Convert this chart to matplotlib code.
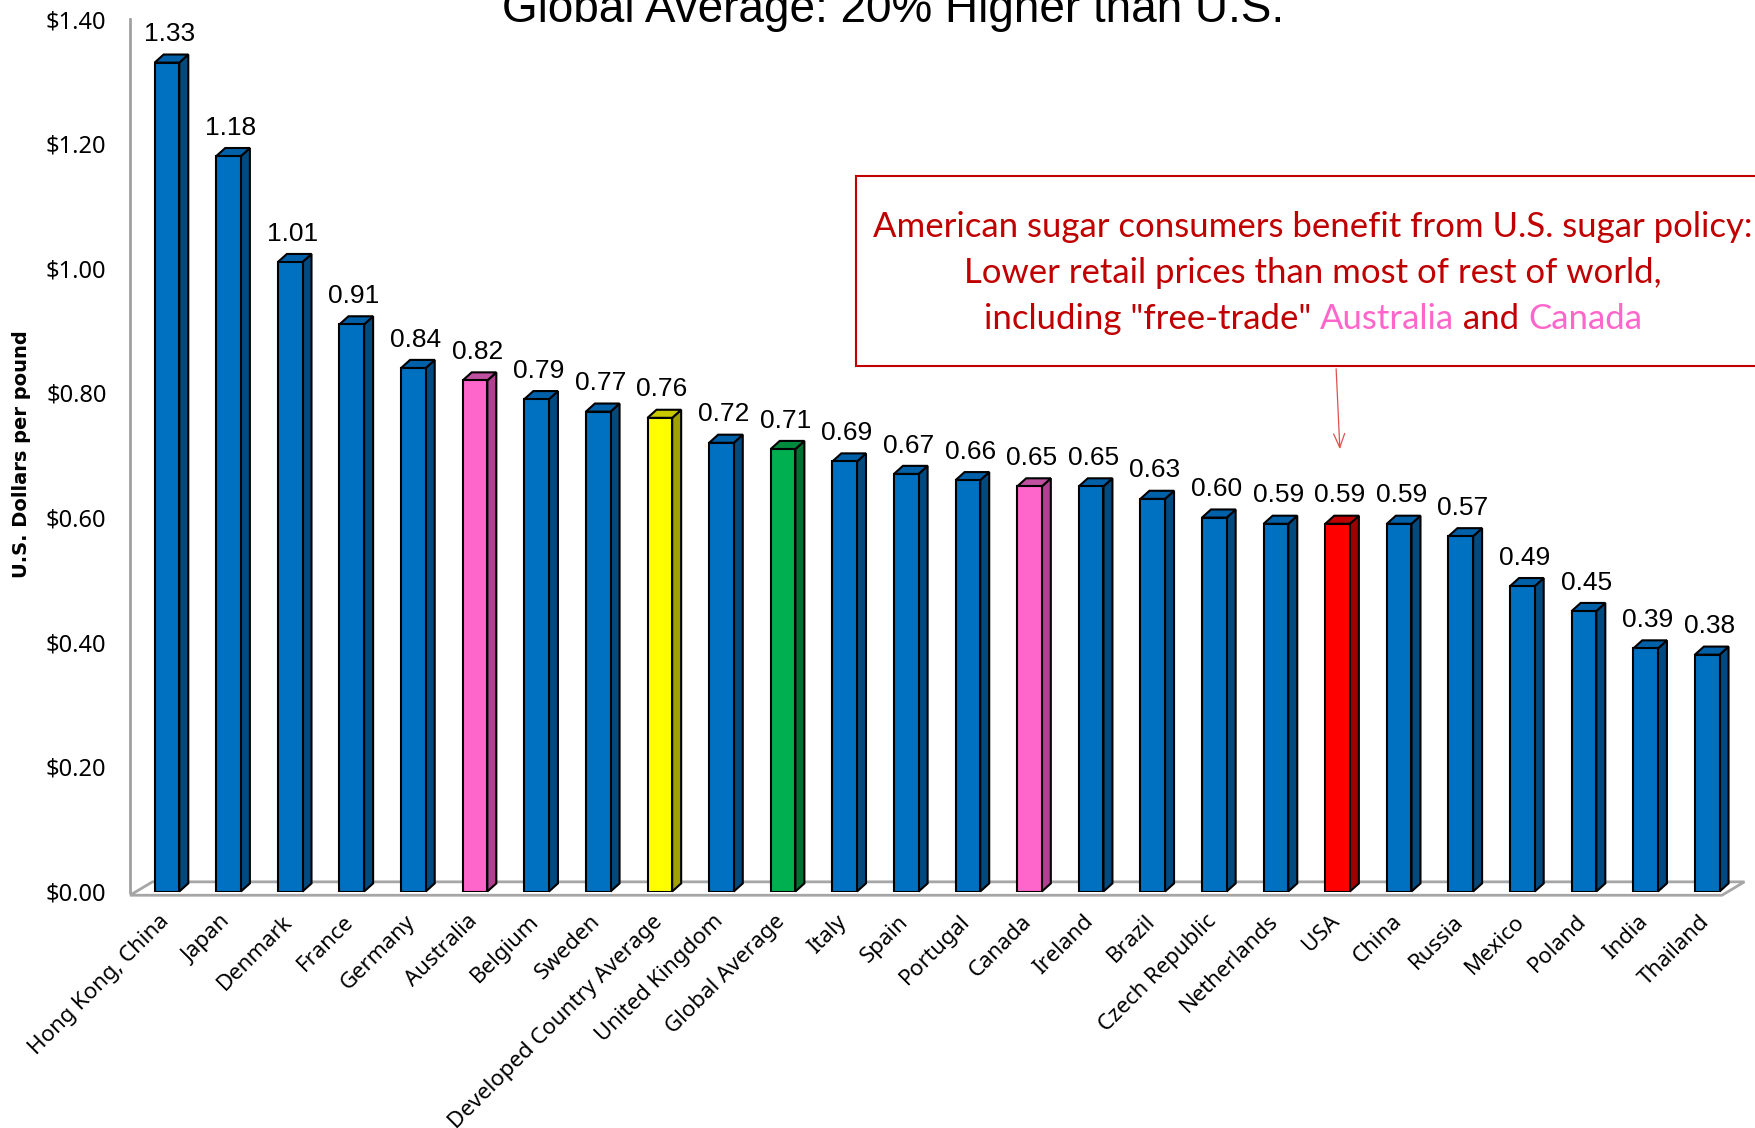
import matplotlib
matplotlib.use("Agg")
import matplotlib.pyplot as plt
from matplotlib.patches import Polygon, Rectangle
from matplotlib.transforms import ScaledTranslation

countries = ["Hong Kong, China", "Japan", "Denmark", "France", "Germany", "Australia",
             "Belgium", "Sweden", "Developed Country Average", "United Kingdom",
             "Global Average", "Italy", "Spain", "Portugal", "Canada", "Ireland", "Brazil",
             "Czech Republic", "Netherlands", "USA", "China", "Russia", "Mexico", "Poland",
             "India", "Thailand"]
prices = [1.33, 1.18, 1.01, 0.91, 0.84, 0.82, 0.79, 0.77, 0.76, 0.72, 0.71, 0.69, 0.67,
          0.66, 0.65, 0.65, 0.63, 0.60, 0.59, 0.59, 0.59, 0.57, 0.49, 0.45, 0.39, 0.38]
yticks = [0.0, 0.2, 0.4, 0.6, 0.8, 1.0, 1.2, 1.4]

# front / side / top colours per highlighted bar
special = {
    "Australia": ("#FF66CC", "#B04090", "#C050A0"),
    "Canada": ("#FF66CC", "#B04090", "#C050A0"),
    "Developed Country Average": ("#FFFF00", "#A0A000", "#C8C800"),
    "Global Average": ("#00B050", "#007030", "#008A3E"),
    "USA": ("#FF0000", "#A00000", "#C00000"),
}
blue = ("#0070C0", "#004A80", "#0060A8")

arial = ["Liberation Sans", "DejaVu Sans"]
tahoma = ["Noto Sans", "DejaVu Sans"]
calibri = ["Lato", "DejaVu Sans"]

W, H = 1756, 1128
fig = plt.figure(figsize=(W / 100, H / 100), dpi=100)
ax = fig.add_axes([130 / W, 1 - 891.5 / H, (1722 - 130) / W, (891.5 - 19) / H])
ax.set_xlim(-0.6, 25.24)
ax.set_ylim(0, 1.4)

bw = 0.4
dx, dy = 0.146, 0.013

# floor
fdx, fdy = 0.364, 0.0215
fy = -0.006
floor = Polygon([(-0.6, fy), (25.24, fy), (25.24 + fdx, fy + fdy), (-0.6 + fdx, fy + fdy)],
                closed=True, facecolor="white", edgecolor="#A6A6A6", lw=2, clip_on=False, zorder=1)
ax.add_patch(floor)

fronts = [special.get(c, blue)[0] for c in countries]
bars = ax.bar(range(len(countries)), prices, width=bw, color=fronts, edgecolor="black",
              linewidth=1.5, zorder=3)
for i, (c, v) in enumerate(zip(countries, prices)):
    f, s, t = special.get(c, blue)
    r = i + bw / 2
    l = i - bw / 2
    ax.add_patch(Polygon([(r, 0), (r + dx, dy), (r + dx, v + dy), (r, v)], closed=True,
                         facecolor=s, edgecolor="black", lw=1.5, zorder=2, clip_on=False))
    ax.add_patch(Polygon([(l, v), (l + dx, v + dy), (r + dx, v + dy), (r, v)], closed=True,
                         facecolor=t, edgecolor="black", lw=1.5, zorder=2, clip_on=False))
    ax.annotate(f"{v:.2f}", (i + dx / 4, v + dy), xytext=(0, 6), textcoords="offset points",
                ha="center", va="bottom", fontsize=19, family=arial, clip_on=False)

for sp in ["top", "right", "bottom"]:
    ax.spines[sp].set_visible(False)
ax.spines["left"].set_color("#A0A0A0")
ax.spines["left"].set_linewidth(2)

ax.set_yticks(yticks)
ax.set_yticklabels([f"${t:.2f}" for t in yticks], fontsize=17, family=tahoma)
ax.tick_params(axis="y", length=0, pad=17)
ax.set_xticks(range(len(countries)))
ax.set_xticklabels(countries, rotation=45, ha="right", va="top", rotation_mode="anchor",
                   fontsize=16, family=tahoma)
ax.tick_params(axis="x", length=0, pad=14)
for lab in ax.get_xticklabels():
    lab.set_transform(lab.get_transform() + ScaledTranslation(-6 / 72, 0, fig.dpi_scale_trans))

fig.text(22 / W, 1 - 454 / H, "U.S. Dollars per pound", rotation=90, ha="center", va="center",
         fontsize=14, fontweight="bold", family="DejaVu Sans")

fig.text(893 / W, 1 - 22 / H, "Global Average: 20% Higher than U.S.", ha="center",
         va="baseline", fontsize=33, family=arial)

# annotation box
fig.patches.append(Rectangle((856 / W, 1 - 366 / H), 920 / W, 190 / H, transform=fig.transFigure,
                             facecolor="white", edgecolor="#C00000", lw=1.5, zorder=5))
dark = "#C00000"
pink = "#FF66CC"
fs = 25
cx = 1313
fig.text(cx / W, 1 - 227 / H, "American sugar consumers benefit from U.S. sugar policy:",
         ha="center", va="center", fontsize=fs, family=calibri, color=dark, zorder=6)
fig.text(cx / W, 1 - 273 / H, "Lower retail prices than most of rest of world,",
         ha="center", va="center", fontsize=fs, family=calibri, color=dark, zorder=6)

pieces = [('including "free-trade" ', dark), ("Australia", pink), (" and ", dark), ("Canada", pink)]
renderer = fig.canvas.get_renderer()
texts = []
for s, col in pieces:
    t = fig.text(0, 1 - 319 / H, s, ha="left", va="center", fontsize=fs, family=calibri,
                 color=col, zorder=6)
    texts.append(t)
full = fig.text(0, 0, "".join(s for s, _ in pieces), fontsize=fs, family=calibri)
total = full.get_window_extent(renderer).width
full.remove()
x0 = cx - total / 2
acc = ""
for (s, col), t in zip(pieces, texts):
    if acc:
        probe = fig.text(0, 0, acc + "|", fontsize=fs, family=calibri)
        bar_w = fig.text(0, 0, "|", fontsize=fs, family=calibri)
        off = probe.get_window_extent(renderer).width - bar_w.get_window_extent(renderer).width
        probe.remove()
        bar_w.remove()
    else:
        off = 0
    t.set_x((x0 + off) / W)
    acc += s

ax.annotate("", xy=(1340, H - 452), xytext=(1336, H - 366), xycoords="figure pixels",
            textcoords="figure pixels",
            arrowprops=dict(arrowstyle="->,head_length=1.0,head_width=0.4", color="#E05050", lw=0.9))

fig.savefig("out.png", dpi=100)
